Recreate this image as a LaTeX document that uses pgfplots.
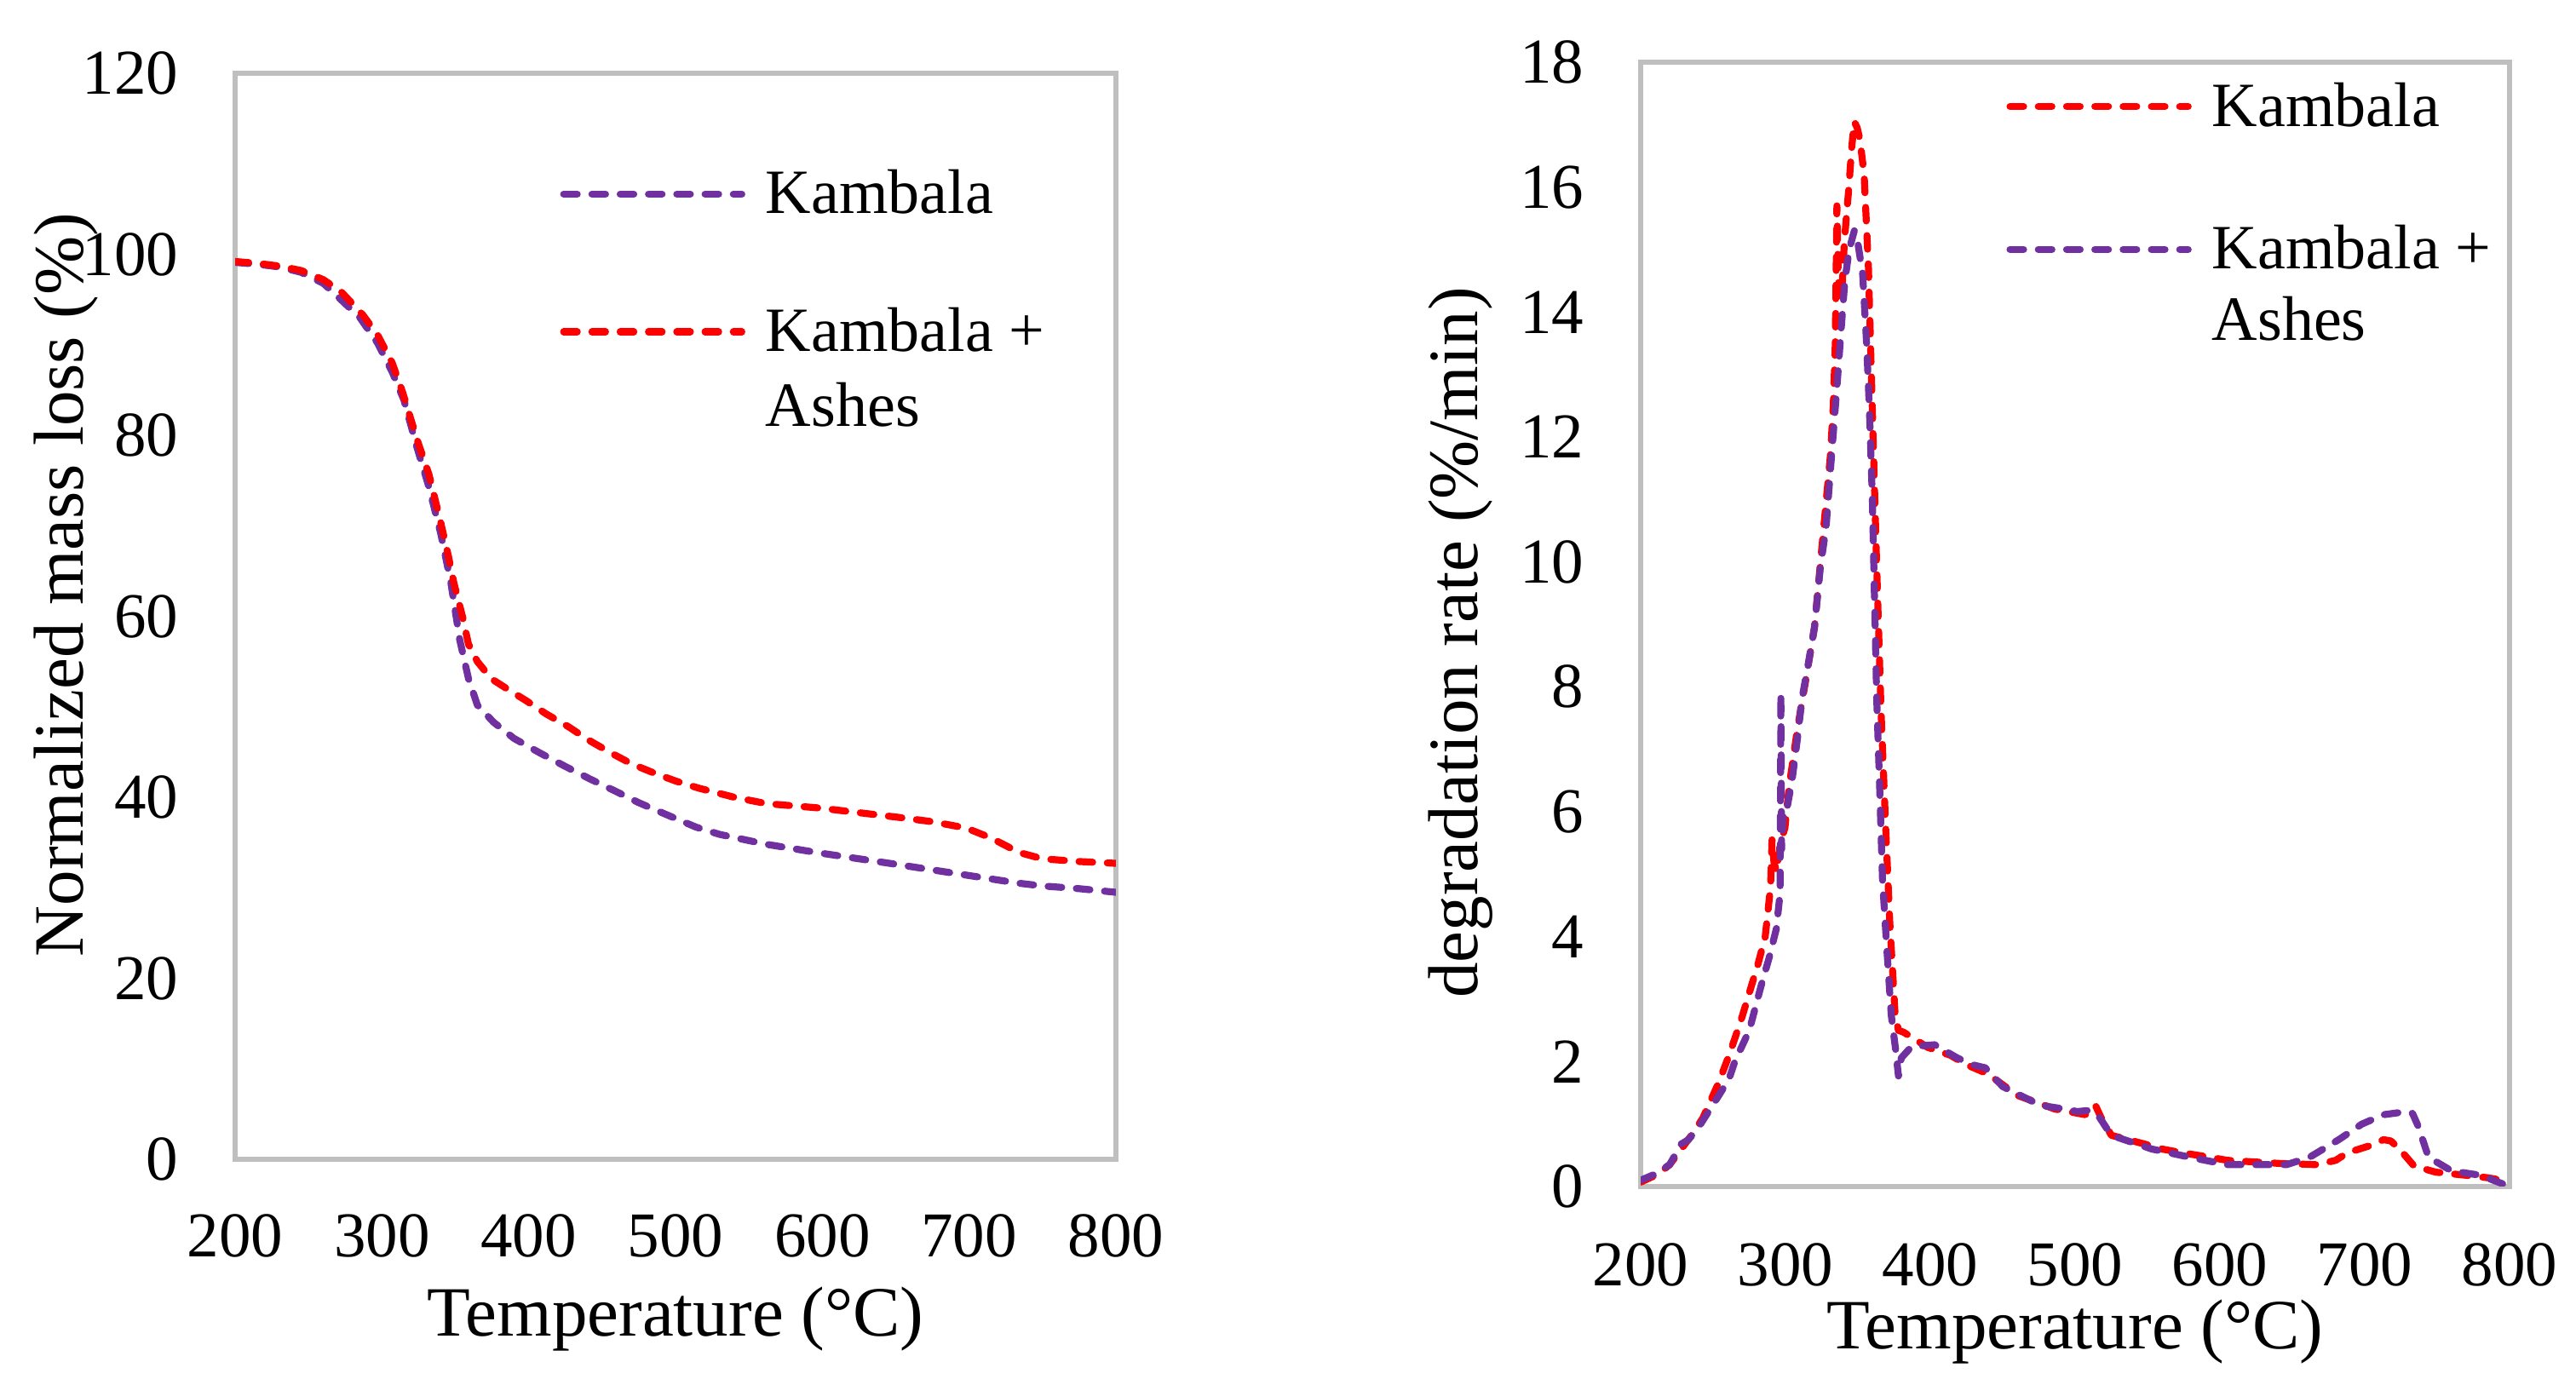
\documentclass[border=0pt]{standalone}
\usepackage{fontspec}
\setmainfont{Liberation Serif}
\usepackage{pgfplots}
\pgfplotsset{compat=1.18}
\definecolor{kred}{RGB}{255,0,0}
\definecolor{kpurple}{RGB}{112,48,160}
\definecolor{kgray}{RGB}{191,191,191}
\pgfplotsset{
 mystyle/.style={
  scale only axis,
  axis line style={draw=kgray, line width=1.5bp},
  major tick length=0pt,
  tick style={draw=none},
  xmin=200,xmax=800, xtick={200,300,...,800},
  /pgf/number format/assume math mode=true,
  tick label style={font=\fontsize{18.75bp}{22bp}\selectfont},
  xticklabel style={anchor=base, inner sep=0pt, yshift=-28.5bp},
  yticklabel style={anchor=east, inner sep=0pt, xshift=-16.5bp},
  label style={font=\fontsize{20.75bp}{24bp}\selectfont, inner sep=0pt},
  legend image code/.code={\draw[##1] (0bp,5.75bp) -- (52.3bp,5.75bp);},
 },
 curve/.style={line width=2.05bp, dash pattern=on 4.0bp off 4.3bp, line cap=round, line join=round},
}
\begin{document}
\begin{tikzpicture}
\useasboundingbox (0,0) rectangle (756bp,406.5bp);
% ---------------- left: TGA ----------------
\begin{axis}[mystyle,
  at={(69bp,66.25bp)}, anchor=south west,
  width=258.5bp, height=318.75bp,
  ymin=0, ymax=120, ytick={0,20,...,120},
  xlabel={Temperature (°C)},
  ylabel={Normalized mass loss (\%)},
  xlabel style={at={(axis description cs:0.5,-0.1624)}, anchor=base},
  ylabel style={at={(axis description cs:-0.1731,0.529)}, anchor=base},
  legend style={at={(0.369,0.911)}, anchor=north west, draw=none, fill=none,
    inner sep=0pt, outer sep=0pt, row sep=26.1bp, column sep=6bp,
    font=\fontsize{18.5bp}{22bp}\selectfont,
    nodes={inner sep=0pt}, cells={anchor=base west}},
]
\addplot[curve, kpurple] coordinates {
(200,99.1) (215,98.9) (230,98.6) (245,98.0) (260,96.8) (272,95.0) (285,93.0)
(297,90.2) (307,87.0) (315,83.9) (324,78.6) (332,74.3) (340,69.2) (347,63.7)
(353,57.4) (359,53.1) (365,50.2) (376,48.3) (390,46.5) (407.6,44.9) (425,43.4)
(442,42.0) (460,40.6) (475,39.4) (495,38.0) (514,36.7) (530,35.9) (562,34.8)
(600,33.8) (650,32.6) (698,31.4) (734,30.5) (750,30.2) (775,29.9) (800,29.5)
};
\addlegendentry{Kambala}
\addplot[curve, kred] coordinates {
(200,99.2) (215,99.0) (230,98.7) (245,98.2) (260,97.2) (272,95.9) (287,93.3)
(297,91.1) (307,88.0) (314,84.8) (324,79.5) (332,75.7) (340,70.4) (345.5,66.5)
(349,63.7) (355,59.9) (359,56.9) (365,55.0) (374.5,53.1) (386,51.9) (398,50.7)
(412,49.2) (427,47.8) (441,46.3) (456,44.9) (470,43.7) (485,42.7) (500,41.8)
(516,41.0) (540,40.0) (562,39.3) (599,38.8) (630,38.2) (651,37.8) (675,37.3)
(698,36.6) (715,35.5) (734,33.9) (750,33.2) (775,32.9) (800,32.7)
};
\addlegendentry{\parbox[t]{120bp}{Kambala +\\Ashes}}
\end{axis}
% ---------------- right: DTG ----------------
\begin{axis}[mystyle,
  at={(481.5bp,58.25bp)}, anchor=south west,
  width=255bp, height=330bp,
  ymin=0, ymax=18, ytick={0,2,...,18},
  xlabel={Temperature (°C)},
  ylabel={degradation rate (\%/min)},
  xticklabel style={yshift=-0.5bp},
  xlabel style={at={(axis description cs:0.5,-0.1445)}, anchor=base},
  ylabel style={at={(axis description cs:-0.1873,0.4837)}, anchor=base},
  legend style={at={(0.421,0.982)}, anchor=north west, draw=none, fill=none,
    inner sep=0pt, outer sep=0pt, row sep=27.6bp, column sep=6bp,
    font=\fontsize{18.5bp}{21bp}\selectfont,
    nodes={inner sep=0pt}, cells={anchor=base west}},
]
\addplot[curve, kred] coordinates {
(200,0.07) (212,0.2) (220,0.35) (228,0.6) (236,0.85) (243,1.1) (254,1.67)
(261,2.1) (269,2.64) (275,3.1) (281,3.56) (286,4.0) (289.7,4.8) (290.7,5.55)
(292,5.2) (293.7,5.04) (296.5,5.5) (299.6,5.74) (302.5,6.4) (308.4,7.35)
(314.3,8.15) (320,8.95) (326,10.45) (331,11.7) (333,12.5) (334.4,13.5)
(335.5,15.7) (336.5,14.5) (338.7,14.2) (340.7,15.15) (343.6,15.95) (345.6,16.6)
(347.5,17.05) (349.5,16.95) (351.4,16.76) (354.3,16.2) (356.3,15.2) (357.3,14.7)
(360,12.4) (363,9.9) (366,7.6) (369,5.85) (372,4.24) (375.7,2.75) (378,2.5)
(381.6,2.47) (393.3,2.3) (398,2.23) (414,2.1) (425,1.95) (440,1.8) (460,1.46)
(486,1.24) (507,1.15) (511,1.25) (514,1.3) (518,1.1) (525,0.82) (548,0.68)
(560,0.6) (574,0.54) (590,0.48) (605,0.42) (641,0.37) (667,0.35) (680,0.42)
(688,0.54) (703,0.65) (713,0.75) (718,0.73) (724,0.6) (734,0.33) (749,0.23)
(770,0.18) (785,0.14) (800,0.08)
};
\addlegendentry{Kambala}
\addplot[curve, kpurple] coordinates {
(200,0.1) (210,0.2) (220,0.35) (228,0.68) (233,0.75) (240,0.95) (254,1.46)
(261,1.72) (265,2.0) (269,2.2) (275,2.5) (283,3.2) (288.8,3.67) (293.7,4.13)
(296.3,4.7) (296.8,7.9) (297.3,5.4) (298.5,6.0) (300.6,6.0) (304.5,6.5)
(308.4,7.2) (311.3,7.8) (316,8.4) (320,8.95) (324,9.9) (328,10.55) (331.8,11.7)
(335.7,12.86) (339,13.9) (341,14.5) (344,15.0) (347.5,15.3) (350,15.1)
(353.3,14.6) (356,13.5) (358,12.4) (360,11.0) (361,9.9) (363,7.8) (365,6.4)
(367,4.9) (370,3.8) (373,2.75) (376,2.2) (378,1.77) (380,2.06) (387,2.24)
(403,2.27) (418.5,2.06) (429,1.95) (438,1.9) (450,1.6) (476,1.3) (490,1.25)
(501.6,1.2) (510,1.22) (517,1.1) (525,0.82) (553,0.6) (579,0.47) (605,0.35)
(646,0.35) (662,0.47) (682,0.75) (698,1.0) (713,1.15) (729,1.2) (733,1.17)
(737,0.96) (744,0.47) (760,0.25) (780,0.18) (800,0.0)
};
\addlegendentry{\parbox[t]{120bp}{\fontsize{18.5bp}{21bp}\selectfont Kambala +\\Ashes}}
\end{axis}
\end{tikzpicture}
\end{document}
